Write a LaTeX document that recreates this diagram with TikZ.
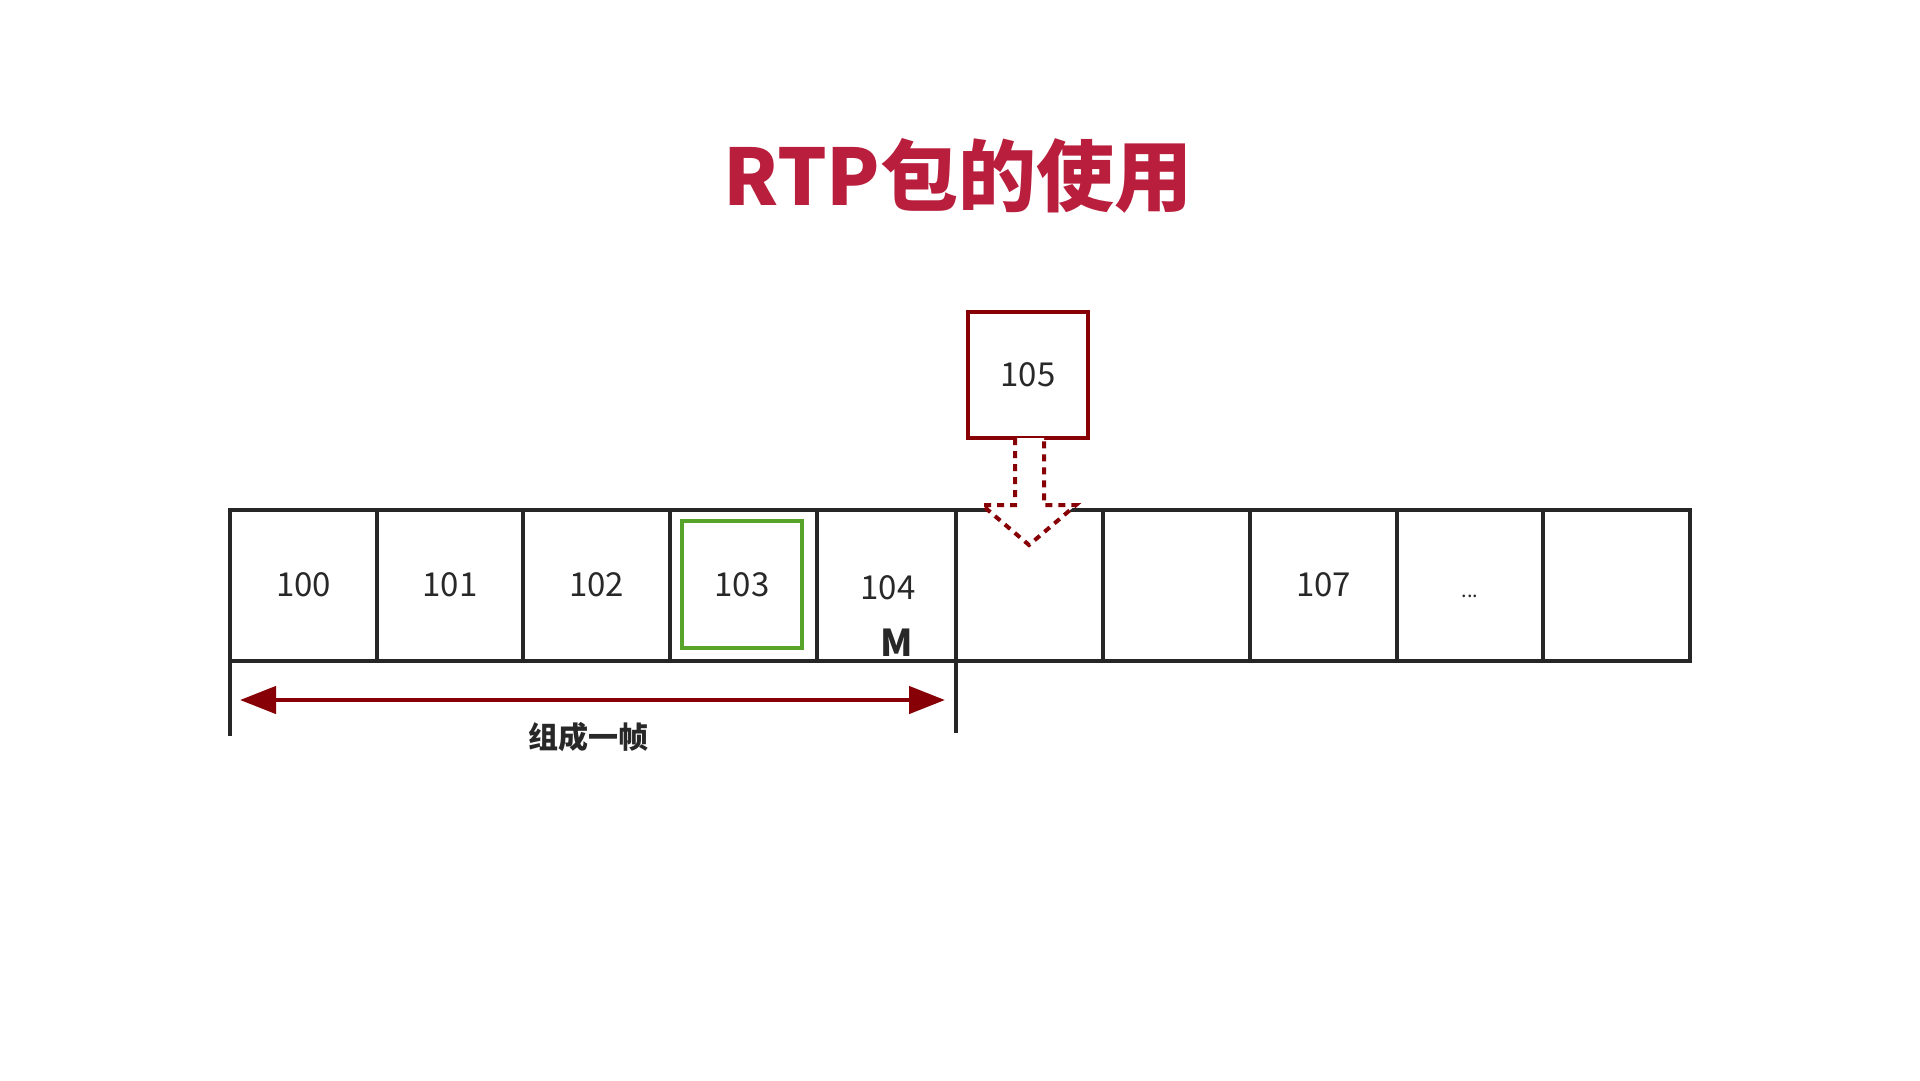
\documentclass[tikz,border=0pt]{standalone}
\usepackage{fontspec}
\setmainfont{Noto Sans CJK SC}
\usetikzlibrary{arrows.meta}
\definecolor{titlered}{RGB}{185,30,60}
\definecolor{dred}{RGB}{135,0,5}
\definecolor{grn}{RGB}{88,163,42}
\definecolor{gridc}{RGB}{38,38,38}
\definecolor{txt}{RGB}{40,40,40}
\tikzset{
  cellbox/.style={draw=gridc, line width=4pt, minimum height=151pt, inner sep=0pt, outer sep=0pt, text=txt, font=\fontsize{33}{36}\selectfont},
  gridline/.style={draw=gridc, line width=4pt},
  hlbox/.style={draw=grn, line width=4pt, minimum width=120pt, minimum height=127pt, inner sep=0pt, text=txt, font=\fontsize{33}{36}\selectfont},
  pktbox/.style={draw=dred, line width=4.5pt, fill=white, minimum width=120pt, minimum height=126pt, inner sep=0pt, text=txt, font=\fontsize{33}{36}\selectfont},
  droparrow/.style={draw=dred, line width=4pt, fill=white, dash pattern=on 7pt off 6pt},
  spanarrow/.style={draw=dred, line width=4.5pt, {Triangle[length=36pt,width=27pt]}-{Triangle[length=36pt,width=27pt]}}
}
\begin{document}
\begin{tikzpicture}[x=1pt,y=-1pt]
\useasboundingbox[fill=white] (0,0) rectangle (1920,1080);
% title
\node[anchor=base, text=titlered, font=\fontsize{78}{80}\selectfont\bfseries] (title) at (958,205) {RTP包的使用};
% cells
\node[cellbox, minimum width=147pt] (c100) at (303.5,585) {\raisebox{-2pt}{100}};
\node[cellbox, minimum width=146pt] (c101) at (450,585) {\raisebox{-2pt}{101}};
\node[cellbox, minimum width=147pt] (c102) at (596.5,585) {\raisebox{-2pt}{102}};
\node[cellbox, minimum width=147pt] (c103) at (743.5,585) {};
\node[cellbox, minimum width=139pt] (c104) at (886.5,585) {};
\node[cellbox, minimum width=147pt] (c105) at (1029.5,585) {};
\node[cellbox, minimum width=147pt] (c106) at (1176.5,585) {};
\node[cellbox, minimum width=147pt] (c107) at (1323.5,585) {\raisebox{-2pt}{107}};
\node[cellbox, minimum width=146pt] (c108) at (1470,585) {};
\node[cellbox, minimum width=147pt] (c109) at (1616.5,585) {};
\node[text=txt, font=\fontsize{20}{22}\selectfont] (dots) at (1470,596) {...};
% highlighted 103
\node[hlbox] (g103) at (742,584.5) {103};
% 104 and marker
\node[text=txt, font=\fontsize{33}{36}\selectfont] (t104) at (888,588) {104};
\node[text=txt, font=\fontsize{37}{40}\selectfont\bfseries] (mark) at (897,643) {M};
% packet 105 above
\node[pktbox] (p105) at (1028,375) {105};
% dotted hollow arrow from 105 into the gap
\coordinate (sl) at (1015,438);
\coordinate (sr) at (1044,438);
\coordinate (tip) at (1029,545);
\draw[droparrow] (sl) -- (1015,505) -- (982,505) -- (tip) -- (1076,505) -- (1044,505) -- (sr);
% span arrow
\coordinate (tl) at (230,736);
\coordinate (tr) at (956,733);
\draw[gridline] (c100.south west) -- (tl);
\draw[gridline] (c104.south east) -- (tr);
\coordinate (aL) at (240,700);
\coordinate (aR) at (945,700);
\draw[spanarrow] (aL) -- (aR);
\node[text=txt, font=\fontsize{30}{32}\selectfont\bfseries] (lbl) at (588,737) {组成一帧};
\end{tikzpicture}
\end{document}
